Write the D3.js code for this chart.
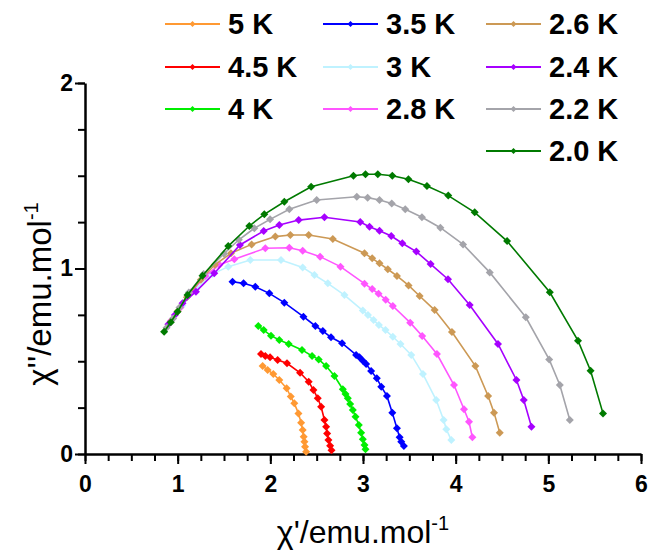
<!DOCTYPE html>
<html>
<head>
<meta charset="utf-8">
<script src="https://d3js.org/d3.v7.min.js"></script>
<style>
  body { margin: 0; background: #fff; }
  text { font-family: "Liberation Sans", Arial, sans-serif; }
</style>
</head>
<body>
<script>

// series labels + colours (legend order, column by column)
var names  = ["5 K", "4.5 K", "4 K", "3.5 K", "3 K", "2.8 K", "2.6 K", "2.4 K", "2.2 K", "2.0 K"];
var colors = ["#ff9933", "#ff0000", "#00ee00", "#0000ff", "#bff2ff", "#ff55ff", "#cc9955", "#a600ff", "#a4a4aa", "#007a00"];

// chi' , chi'' pairs
var t50 = [[1.917,0.474],[1.971,0.453],[2.032,0.431],[2.097,0.399],[2.176,0.354],[2.22,0.31],[2.259,0.273],[2.303,0.219],[2.332,0.169],[2.349,0.129],[2.36,0.093],[2.368,0.066],[2.375,0.039],[2.386,0.012]];
var t45 = [[1.899,0.539],[1.946,0.528],[1.997,0.521],[2.079,0.507],[2.18,0.489],[2.321,0.438],[2.414,0.39],[2.465,0.345],[2.512,0.30],[2.548,0.255],[2.584,0.183],[2.602,0.147],[2.613,0.111],[2.627,0.075],[2.645,0.045],[2.66,0.02]];
var t40 = [[1.87,0.69],[1.928,0.668],[2.007,0.638],[2.097,0.615],[2.198,0.593],[2.342,0.561],[2.45,0.528],[2.522,0.51],[2.602,0.474],[2.692,0.42],[2.782,0.349],[2.811,0.323],[2.836,0.30],[2.862,0.27],[2.89,0.237],[2.919,0.201],[2.955,0.156],[2.98,0.115],[2.998,0.079],[3.016,0.049],[3.027,0.025]];
var t35 = [[1.592,0.929],[1.711,0.92],[1.838,0.902],[1.989,0.866],[2.151,0.816],[2.357,0.74],[2.486,0.69],[2.566,0.663],[2.655,0.629],[2.774,0.597],[2.926,0.534],[2.962,0.521],[2.998,0.503],[3.034,0.485],[3.088,0.447],[3.149,0.408],[3.197,0.363],[3.258,0.313],[3.316,0.223],[3.366,0.139],[3.395,0.09],[3.413,0.066],[3.441,0.043]];
var t30 = [[0.95,0.73],[1.05,0.80],[1.2,0.89],[1.376,0.97],[1.546,1.01],[1.784,1.046],[2.115,1.046],[2.349,1.006],[2.476,0.965],[2.62,0.92],[2.8,0.857],[2.998,0.773],[3.053,0.749],[3.114,0.722],[3.171,0.695],[3.243,0.668],[3.322,0.632],[3.405,0.593],[3.521,0.534],[3.647,0.431],[3.79,0.291],[3.87,0.183],[3.899,0.133],[3.953,0.075]];
var t28 = [[0.93,0.72],[1.03,0.79],[1.14,0.87],[1.3,0.96],[1.45,1.02],[1.611,1.05],[1.946,1.109],[2.205,1.112],[2.349,1.096],[2.537,1.064],[2.757,1.01],[3.016,0.918],[3.099,0.889],[3.168,0.864],[3.245,0.832],[3.322,0.798],[3.509,0.708],[3.639,0.636],[3.798,0.539],[3.982,0.372],[4.09,0.241],[4.144,0.174],[4.18,0.09]];
var t26 = [[0.92,0.71],[1.0,0.77],[1.1,0.845],[1.25,0.94],[1.4,1.02],[1.575,1.082],[1.798,1.13],[2.054,1.172],[2.216,1.181],[2.414,1.181],[2.674,1.159],[3.016,1.082],[3.099,1.055],[3.178,1.028],[3.268,0.996],[3.366,0.96],[3.492,0.909],[3.611,0.852],[3.773,0.776],[3.96,0.658],[4.213,0.474],[4.35,0.313],[4.414,0.223],[4.476,0.115]];
var t24 = [[0.9,0.70],[0.97,0.75],[1.052,0.812],[1.197,0.875],[1.395,0.974],[1.672,1.127],[1.928,1.202],[2.097,1.234],[2.306,1.261],[2.584,1.276],[2.97,1.251],[3.07,1.225],[3.178,1.204],[3.305,1.175],[3.424,1.136],[3.575,1.091],[3.73,1.024],[3.917,0.942],[4.151,0.803],[4.457,0.593],[4.656,0.399],[4.735,0.291],[4.818,0.147]];
var t22 = [[0.88,0.68],[0.95,0.73],[1.02,0.79],[1.12,0.87],[1.28,0.97],[1.5,1.08],[1.66,1.155],[1.827,1.217],[1.997,1.265],[2.205,1.319],[2.5,1.369],[2.933,1.387],[3.05,1.382],[3.178,1.369],[3.31,1.351],[3.456,1.319],[3.636,1.276],[3.835,1.22],[4.08,1.13],[4.368,0.979],[4.757,0.737],[5.009,0.51],[5.124,0.372],[5.232,0.183]];
var t20 = [[0.854,0.659],[0.926,0.71],[0.998,0.767],[1.106,0.857],[1.268,0.961],[1.546,1.121],[1.773,1.229],[1.935,1.292],[2.151,1.36],[2.44,1.441],[2.897,1.5],[3.027,1.508],[3.16,1.508],[3.316,1.5],[3.49,1.481],[3.69,1.445],[3.92,1.393],[4.205,1.303],[4.555,1.148],[5.016,0.872],[5.32,0.611],[5.456,0.449],[5.59,0.219]];

var series = [t50, t45, t40, t35, t30, t28, t26, t24, t22, t20];

var xTicks = [0, 1, 2, 3, 4, 5, 6];
var yTicks = [0, 1, 2];

var width = 653,
    height = 555;

var x = d3.scaleLinear().domain([0, 6]).range([85, 641]);
var y = d3.scaleLinear().domain([0, 2]).range([454, 83]);

var svg = d3.select("body").append("svg")
    .attr("width", width)
    .attr("height", height);

// axes: minor ticks every 0.25, labels on the integers
function styleAxis(g) {
  g.select(".domain").attr("stroke-width", 2.5).attr("stroke", "#000");
  g.selectAll(".tick line").attr("stroke-width", 2).attr("stroke", "#000");
  g.selectAll("text")
    .style("font-size", "23px")
    .style("font-weight", "bold")
    .attr("fill", "#000");
}

var xMinor = d3.range(0, 6.001, 0.25);
var yMinor = d3.range(0, 2.001, 0.25);

svg.append("g")
    .attr("transform", "translate(0," + y(0) + ")")
    .call(d3.axisBottom(x).tickValues(xMinor).tickSize(7).tickSizeOuter(0).tickFormat(""))
    .call(styleAxis);

svg.append("g")
    .attr("transform", "translate(0," + y(0) + ")")
    .call(d3.axisBottom(x).tickValues(xTicks).tickSize(10).tickPadding(12).tickSizeOuter(0).tickFormat(d3.format("d")))
    .call(styleAxis)
  .select(".domain").remove();

svg.append("g")
    .attr("transform", "translate(" + x(0) + ",0)")
    .call(d3.axisLeft(y).tickValues(yMinor).tickSize(7).tickSizeOuter(0).tickFormat(""))
    .call(styleAxis);

svg.append("g")
    .attr("transform", "translate(" + x(0) + ",0)")
    .call(d3.axisLeft(y).tickValues(yTicks).tickSize(10).tickPadding(2).tickSizeOuter(0).tickFormat(d3.format("d")))
    .call(styleAxis)
  .select(".domain").remove();

// axis titles
var xl = svg.append("text")
    .attr("x", 363).attr("y", 543)
    .attr("text-anchor", "middle")
    .style("font-size", "32px");
xl.append("tspan").text("\u03c7'/emu.mol");
xl.append("tspan").attr("dy", -13).style("font-size", "20px").text("-1");

var yl = svg.append("text")
    .attr("transform", "translate(51,294) rotate(-90)")
    .attr("text-anchor", "middle")
    .style("font-size", "33px");
yl.append("tspan").text("\u03c7''/emu.mol");
yl.append("tspan").attr("dy", -13).style("font-size", "20px").text("-1");

// curves
var line = d3.line()
    .x(function(d) { return x(d[0]); })
    .y(function(d) { return y(d[1]); });

var marker = d3.symbol().type(d3.symbolSquare).size(32);

series.forEach(function(s, i) {
  var g = svg.append("g");
  g.append("path")
      .attr("d", line(s))
      .attr("fill", "none")
      .attr("stroke", colors[i])
      .attr("stroke-width", 1.6);
  g.selectAll("path.pt")
      .data(s)
    .enter().append("path")
      .attr("class", "pt")
      .attr("d", marker)
      .attr("fill", colors[i])
      .attr("transform", function(d) {
        return "translate(" + x(d[0]) + "," + y(d[1]) + ") rotate(45)";
      });
});

// legend, three columns
var legCols = [165, 323, 486];
var legRows = [24, 67, 109, 151];
var legPos = [[0,0],[0,1],[0,2],[1,0],[1,1],[1,2],[2,0],[2,1],[2,2],[2,3]];

var legend = svg.append("g");
names.forEach(function(n, i) {
  var lx = legCols[legPos[i][0]],
      ly = legRows[legPos[i][1]];
  var g = legend.append("g").attr("transform", "translate(" + lx + "," + ly + ")");
  g.append("line")
      .attr("x1", 0).attr("x2", 55)
      .attr("stroke", colors[i])
      .attr("stroke-width", 2);
  g.append("path")
      .attr("d", d3.symbol().type(d3.symbolSquare).size(18)())
      .attr("transform", "translate(27.5,0) rotate(45)")
      .attr("fill", colors[i]);
  g.append("text")
      .attr("x", 63).attr("y", 10)
      .style("font-size", "29px")
      .style("font-weight", "bold")
      .text(n);
});

</script>
</body>
</html>
